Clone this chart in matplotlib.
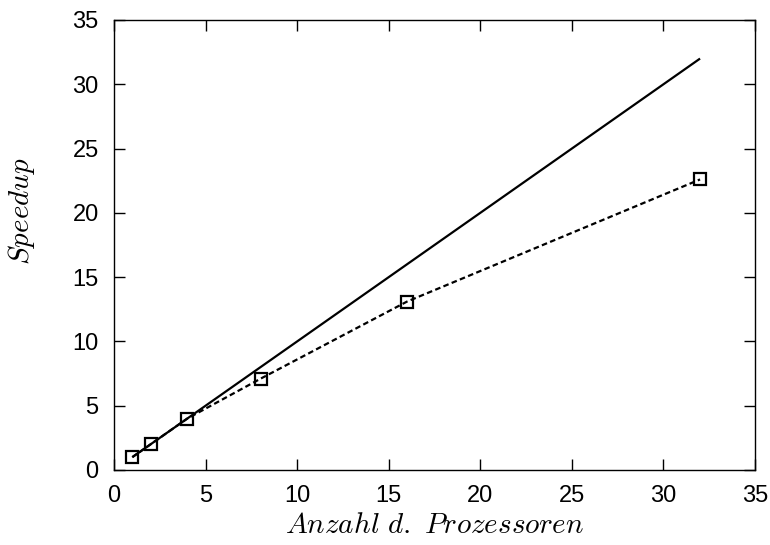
import matplotlib
import matplotlib.pyplot as plt

matplotlib.use("Agg")

# Speedup data
procs = [1, 2, 4, 8, 16, 32]
speedup = [1.0, 2.0, 4.0, 7.1, 13.1, 22.6]
ideal_x = [1, 32]
ideal_y = [1, 32]

plt.rcParams["font.family"] = ["Liberation Sans", "DejaVu Sans"]
plt.rcParams["mathtext.fontset"] = "cm"

fig = plt.figure(figsize=(7.7, 5.45), dpi=100)
ax = fig.add_axes([114 / 770, 75 / 545, 641 / 770, 450 / 545])

ax.plot(ideal_x, ideal_y, color="black", lw=1.6, solid_capstyle="butt")
ax.plot(procs, speedup, color="black", lw=1.6, linestyle=(0, (2.5, 1.5)),
        marker="s", markersize=8, markerfacecolor="none",
        markeredgecolor="black", markeredgewidth=1.6)

ax.set_xlim(0, 35)
ax.set_ylim(0, 35)
ax.set_xticks(range(0, 36, 5))
ax.set_yticks(range(0, 36, 5))
ax.tick_params(direction="in", length=8, width=1, labelsize=17,
               top=True, right=True)
ax.tick_params(axis="x", pad=11)
ax.tick_params(axis="y", pad=11)
for s in ax.spines.values():
    s.set_linewidth(1)

ax.set_xlabel(r"$Anzahl\ d.\ Prozessoren$", fontsize=21, labelpad=3)
ax.set_ylabel(r"$Speedup$", fontsize=21)
ax.yaxis.set_label_coords(-0.12, 0.576)

fig.savefig("out.png", dpi=100)
